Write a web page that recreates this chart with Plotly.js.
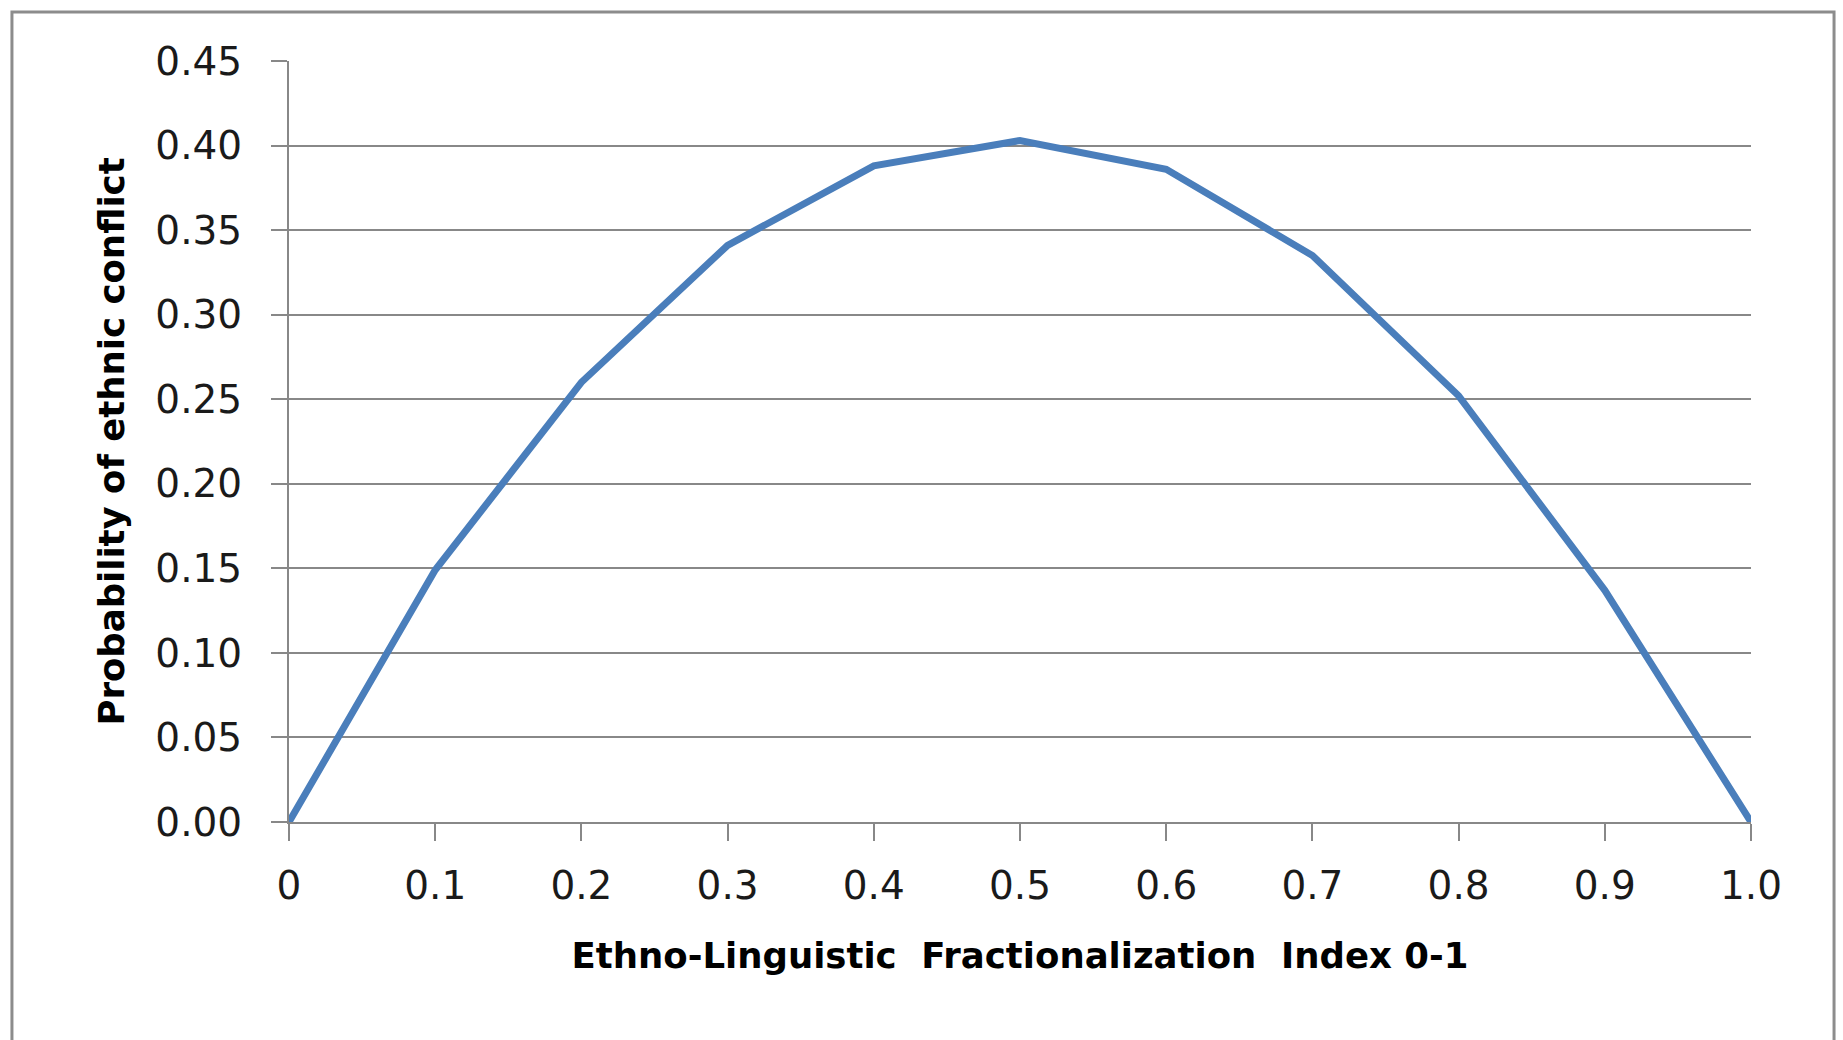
<!DOCTYPE html>
<html>
<head>
<meta charset="utf-8">
<script src="https://cdn.plot.ly/plotly-3.0.1.min.js"></script>
<style>
  html, body { margin: 0; padding: 0; background: #ffffff; }
  #chart { width: 1843px; height: 1040px; }
</style>
</head>
<body>
<div id="chart"></div>
<script>
// Data
const elfIndex = [0, 0.1, 0.2, 0.3, 0.4, 0.5, 0.6, 0.7, 0.8, 0.9, 1.0];
const conflictProb = [0, 0.149, 0.260, 0.341, 0.388, 0.403, 0.386, 0.335, 0.252, 0.137, 0];
const xTickVals = [0, 0.1, 0.2, 0.3, 0.4, 0.5, 0.6, 0.7, 0.8, 0.9, 1.0];
const xTickText = ["0", "0.1", "0.2", "0.3", "0.4", "0.5", "0.6", "0.7", "0.8", "0.9", "1.0"];
const yTickVals = [0, 0.05, 0.10, 0.15, 0.20, 0.25, 0.30, 0.35, 0.40, 0.45];
const yTickText = ["0.00", "0.05", "0.10", "0.15", "0.20", "0.25", "0.30", "0.35", "0.40", "0.45"];
const xTitle = "Ethno-Linguistic\u00a0 Fractionalization\u00a0 Index 0-1";
const yTitle = "Probability of ethnic conflict";

const FONT = "'DejaVu Sans', 'Open Sans', sans-serif";
const GRID = "#888888";

const trace = {
  x: elfIndex,
  y: conflictProb,
  type: "scatter",
  mode: "lines",
  line: { color: "#4a7ebb", width: 7 },
  hoverinfo: "x+y"
};

const layout = {
  width: 1843,
  height: 1040,
  paper_bgcolor: "#ffffff",
  plot_bgcolor: "#ffffff",
  showlegend: false,
  margin: { l: 289, r: 92, t: 61, b: 218, pad: 0 },
  font: { family: FONT, color: "#1a1a1a" },
  xaxis: {
    range: [0, 1],
    tickmode: "array",
    tickvals: xTickVals,
    ticktext: xTickText,
    ticks: "outside",
    ticklen: 17,
    tickwidth: 2,
    tickcolor: GRID,
    ticklabelstandoff: 11,
    tickfont: { family: FONT, size: 39, color: "#1a1a1a" },
    showgrid: false,
    zeroline: false,
    showline: true,
    linecolor: GRID,
    linewidth: 2,
    title: {
      text: xTitle,
      font: { family: FONT, size: 35.5, color: "#000000", weight: "bold" },
      standoff: 36
    }
  },
  yaxis: {
    range: [0, 0.45],
    tickmode: "array",
    tickvals: yTickVals,
    ticktext: yTickText,
    ticks: "outside",
    ticklen: 16,
    tickwidth: 2,
    tickcolor: GRID,
    ticklabelstandoff: 21,
    tickfont: { family: FONT, size: 39, color: "#1a1a1a" },
    showgrid: true,
    gridcolor: GRID,
    gridwidth: 2,
    zeroline: false,
    showline: true,
    linecolor: GRID,
    linewidth: 2,
    title: {
      text: yTitle,
      font: { family: FONT, size: 35.5, color: "#000000", weight: "bold" },
      standoff: 20
    }
  },
  shapes: [
    {
      type: "path",
      xref: "paper", yref: "paper",
      path: "M -0.1895 -0.35 L -0.1895 1.0644 L 1.0568 1.0644 L 1.0568 -0.35",
      line: { color: "#8c8c8c", width: 3 },
      layer: "above"
    }
  ]
};

Plotly.newPlot("chart", [trace], layout, { displayModeBar: false, staticPlot: true });
</script>
</body>
</html>
